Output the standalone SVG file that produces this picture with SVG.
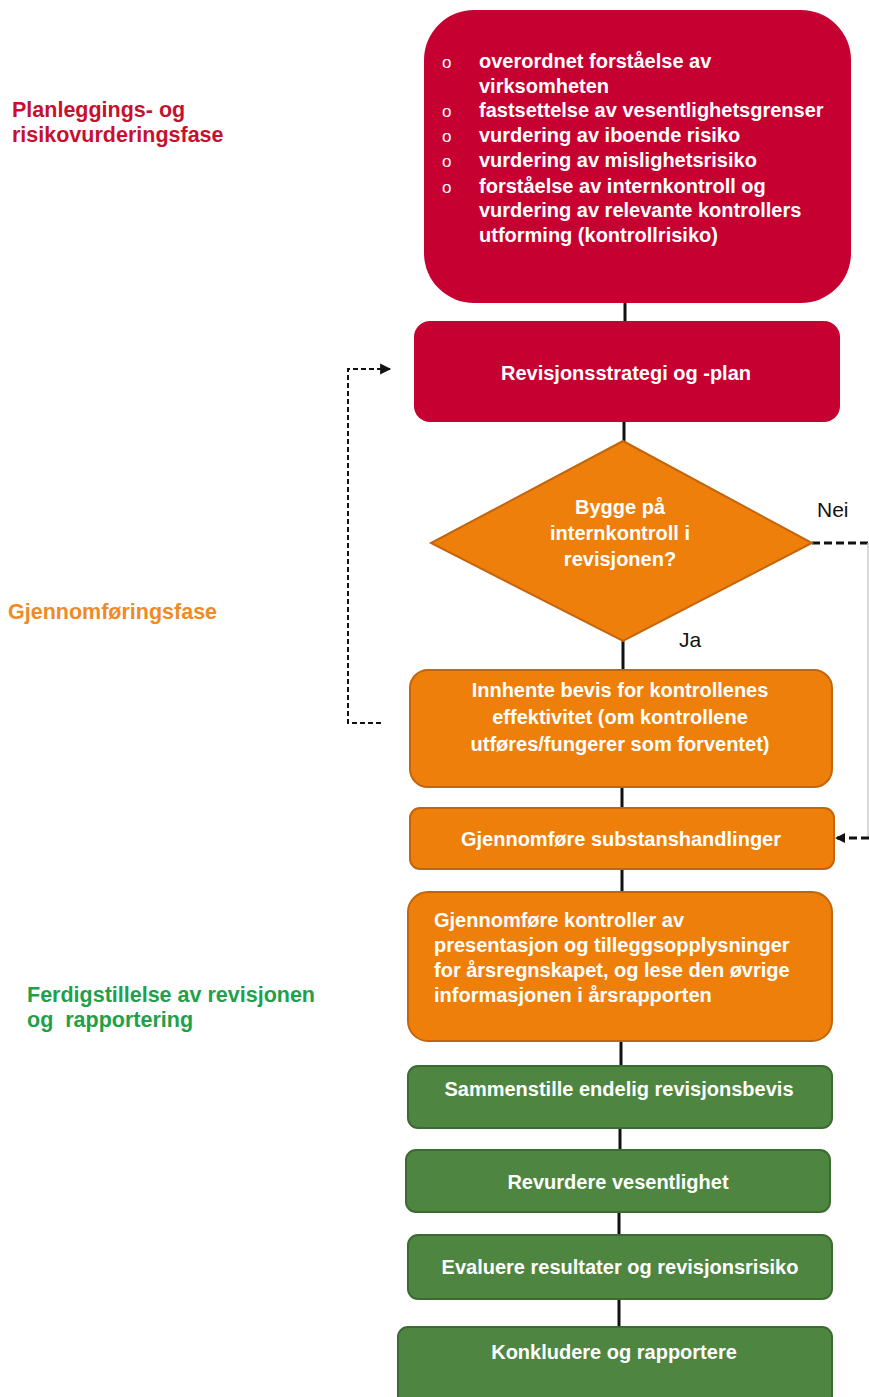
<svg xmlns="http://www.w3.org/2000/svg" width="869" height="1397" viewBox="0 0 869 1397">
<style>
.t{font-family:"Liberation Sans",Arial,sans-serif;font-size:20px;font-weight:bold;fill:#fff;letter-spacing:0px}
.b{font-family:"Liberation Sans",Arial,sans-serif;font-size:17px;fill:#fff}
.c{text-anchor:middle}
.lab{font-family:"Liberation Sans",Arial,sans-serif;font-size:21.5px;font-weight:bold}
.red{fill:#C70032}
.or{fill:#EE7F0B;stroke:#C4650C;stroke-width:2}
.gr{fill:#4E8641;stroke:#3C6B31;stroke-width:2}
.conn{stroke:#111;stroke-width:3;fill:none}
.dash{stroke:#111;stroke-width:2;fill:none;stroke-dasharray:5,3}
.dash2{stroke:#111;stroke-width:3;fill:none;stroke-dasharray:8,4}
.blk{font-family:"Liberation Sans",Arial,sans-serif;font-size:21px;fill:#111}
</style>
<defs>
<marker id="ah" viewBox="0 0 10 10" refX="9" refY="5" markerWidth="11" markerHeight="11" orient="auto" markerUnits="userSpaceOnUse" overflow="visible">
<path d="M0,0 L10,5 L0,10 z" fill="#111"/>
</marker>
<marker id="ah2" viewBox="0 0 10 10" refX="9" refY="5" markerWidth="12" markerHeight="10" orient="auto" markerUnits="userSpaceOnUse" overflow="visible">
<path d="M0,0 L10,5 L0,10 z" fill="#111"/>
</marker>
</defs>
<rect width="869" height="1397" fill="#fff"/>
<g id="connectors">
<line class="conn" x1="625" y1="303" x2="625" y2="322"/>
<line class="conn" x1="624" y1="421" x2="624" y2="442"/>
<line class="conn" x1="623" y1="640" x2="623" y2="671"/>
<line class="conn" x1="622" y1="787" x2="622" y2="809"/>
<line class="conn" x1="622" y1="869" x2="622" y2="893"/>
<line class="conn" x1="621" y1="1041" x2="621" y2="1066"/>
<line class="conn" x1="620" y1="1128" x2="620" y2="1150"/>
<line class="conn" x1="619" y1="1212" x2="619" y2="1235"/>
<line class="conn" x1="619" y1="1299" x2="619" y2="1327"/>
<path class="dash" d="M381,723 H348 V369 H390" marker-end="url(#ah)"/>
<path class="dash2" d="M812,543 H869"/>
<line x1="868" y1="543" x2="868" y2="838" stroke="#ccc" stroke-width="1.5"/>
<path class="dash2" d="M869,838 H836" marker-end="url(#ah2)"/>
</g>
<g id="labels">
<text class="lab" fill="#C8102E" x="12" y="117">Planleggings- og</text>
<text class="lab" fill="#C8102E" x="12" y="142">risikovurderingsfase</text>
<text class="lab" fill="#F08A24" x="8" y="619">Gjennomføringsfase</text>
<text class="lab" fill="#1FA04A" x="27" y="1002">Ferdigstillelse av revisjonen</text>
<text class="lab" fill="#1FA04A" x="27" y="1027" xml:space="preserve">og  rapportering</text>
<text class="blk" x="817" y="517">Nei</text>
<text class="blk" x="679" y="647">Ja</text>
</g>
<g id="node-planning">
<rect class="red" x="424" y="10" width="427" height="293" rx="50"/>
<g class="b">
<text x="442" y="68">o</text>
<text x="442" y="117">o</text>
<text x="442" y="142">o</text>
<text x="442" y="167">o</text>
<text x="442" y="193">o</text>
</g>
<g class="t">
<text x="479" y="68">overordnet forståelse av</text>
<text x="479" y="93">virksomheten</text>
<text x="479" y="117">fastsettelse av vesentlighetsgrenser</text>
<text x="479" y="142">vurdering av iboende risiko</text>
<text x="479" y="167">vurdering av mislighetsrisiko</text>
<text x="479" y="193">forståelse av internkontroll og</text>
<text x="479" y="217">vurdering av relevante kontrollers</text>
<text x="479" y="242">utforming (kontrollrisiko)</text>
</g>
</g>
<g id="node-strategy">
<rect class="red" x="414" y="321" width="426" height="101" rx="16"/>
<text class="t c" x="626" y="380">Revisjonsstrategi og -plan</text>
</g>
<g id="node-decision">
<polygon class="or" points="623,441 812,543 623,641 431,543"/>
<text class="t c" x="620" y="514">Bygge på</text>
<text class="t c" x="620" y="540">internkontroll i</text>
<text class="t c" x="620" y="566">revisjonen?</text>
</g>
<g id="node-controls-evidence">
<rect class="or" x="410" y="670" width="422" height="117" rx="18"/>
<text class="t c" x="620" y="697">Innhente bevis for kontrollenes</text>
<text class="t c" x="620" y="724">effektivitet (om kontrollene</text>
<text class="t c" x="620" y="751">utføres/fungerer som forventet)</text>
</g>
<g id="node-substantive">
<rect class="or" x="410" y="808" width="424" height="61" rx="10"/>
<text class="t c" x="621" y="846">Gjennomføre substanshandlinger</text>
</g>
<g id="node-presentation">
<rect class="or" x="408" y="892" width="424" height="149" rx="20"/>
<text class="t" x="434" y="927">Gjennomføre kontroller av</text>
<text class="t" x="434" y="952">presentasjon og tilleggsopplysninger</text>
<text class="t" x="434" y="977">for årsregnskapet, og lese den øvrige</text>
<text class="t" x="434" y="1002">informasjonen i årsrapporten</text>
</g>
<g id="node-compile">
<rect class="gr" x="408" y="1066" width="424" height="62" rx="10"/>
<text class="t c" x="619" y="1096">Sammenstille endelig revisjonsbevis</text>
</g>
<g id="node-materiality">
<rect class="gr" x="406" y="1150" width="424" height="62" rx="10"/>
<text class="t c" x="618" y="1189">Revurdere vesentlighet</text>
</g>
<g id="node-evaluate">
<rect class="gr" x="408" y="1235" width="424" height="64" rx="10"/>
<text class="t c" x="620" y="1274">Evaluere resultater og revisjonsrisiko</text>
</g>
<g id="node-conclude">
<rect class="gr" x="398" y="1327" width="434" height="80" rx="10"/>
<text class="t c" x="614" y="1359">Konkludere og rapportere</text>
</g>
</svg>
